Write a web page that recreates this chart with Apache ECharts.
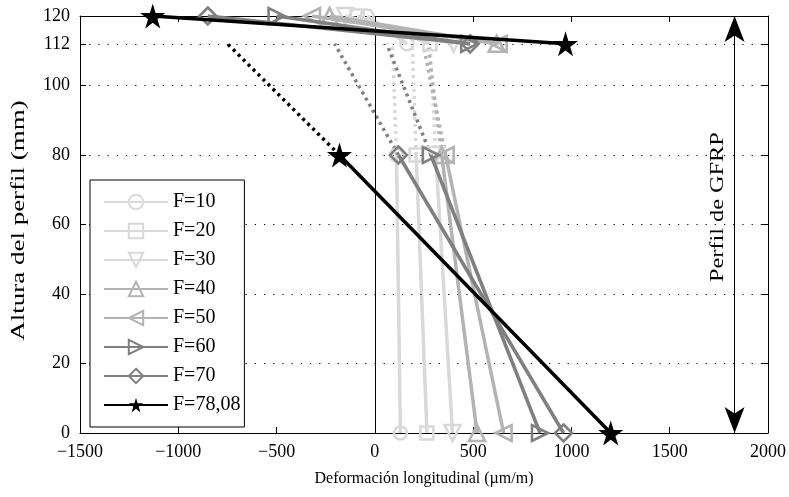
<!DOCTYPE html>
<html><head><meta charset="utf-8">
<script src="https://cdn.jsdelivr.net/npm/echarts@6/dist/echarts.min.js"></script>
<style>html,body{margin:0;padding:0;background:#fff}#c{width:789px;height:497px}</style>
</head><body><div id="c"></div>
<script>
const names = ['F=10','F=20','F=30','F=40','F=50','F=60','F=70','F=78,08'];
const heights = [0, 80, 112, 120];            // bottom, web top, flange bottom, flange top (mm)
const strainBottom = [130, 265, 395, 520, 655, 840, 960, 1200];   // at 0 mm
const strainWebTop = [110, 210, 310, 340, 360, 285, 120, -180];   // at 80 mm
const strainExt112 = [90, 190, 280, 270, 245, 60, -205, -750];    // dotted extension at 112 mm
const strainFlangeTop = [-40, -90, -150, -230, -320, -500, -850, -1130]; // at 120 mm
const strainFlangeBot = [163, 280, 400, 620, 630, 480, 485, 970];  // at 112 mm
const yTicks = [0, 20, 40, 60, 80, 100, 112, 120];
const yGrid = [20, 40, 60, 80, 100, 112];
const arrowX = 1830;
const xTitle = 'Deformación longitudinal (µm/m)';
const yTitle = 'Altura del perfil (mm)';
const noteText = 'Perfil de GFRP';

const colors = ['#d9d9d9','#d9d9d9','#d9d9d9','#b3b3b3','#b3b3b3','#7f7f7f','#7f7f7f','#000000'];
const star = 'path://M50,0 L61,35 L98,35 L68,57 L79,91 L50,70 L21,91 L32,57 L2,35 L39,35 Z';
const symbols = ['circle','rect','triangle','triangle','triangle','triangle','diamond',star];
const rotates = [0,0,180,0,90,-90,0,0];
const sizes = [13,13,16,16,16,16,17,25];
const font = 'Liberation Serif, Times New Roman, serif';

function styleFor(i) {
  const c = colors[i];
  const isStar = i === 7;
  return {
    symbol: symbols[i], symbolSize: sizes[i], symbolRotate: rotates[i],
    lineStyle: {color: c, width: 3.5}, color: c,
    itemStyle: {color: isStar ? c : 'rgba(255,255,255,0)', borderColor: c, borderWidth: isStar ? 0 : 2.6},
    animation: false, z: 3 + i, showAllSymbol: true
  };
}
const series = [];
names.forEach((n,i)=>{
  series.push(Object.assign({name: n, type: 'line'}, styleFor(i),
    {data: [[strainBottom[i], heights[0]], [strainWebTop[i], heights[1]]]}));
});
names.forEach((n,i)=>{
  series.push({
    name: n, type: 'line', showSymbol: false, symbol: 'none', animation: false, z: 2,
    lineStyle: {color: colors[i], width: 3.5, type: [3, 4], cap: 'butt'},
    data: [[strainWebTop[i], heights[1]], [strainExt112[i], heights[2]]]
  });
});
names.forEach((n,i)=>{
  series.push(Object.assign({name: n, type: 'line'}, styleFor(i),
    {data: [[strainFlangeTop[i], heights[3]], [strainFlangeBot[i], heights[2]]]}));
});
// helper: grid lines, zero line, GFRP arrow
series.push({
  type: 'line', data: [], silent: true, animation: false,
  markLine: {
    silent: true, symbol: 'none', animation: false,
    label: {show: false},
    data: yGrid.map(v => ({yAxis: v, lineStyle: {color: '#000', width: 1, type: [1.2, 8]}}))
      .concat([{xAxis: 0, lineStyle: {color: '#000', width: 1, type: 'solid'}}])
  },
  z: 1
});
series.push({
  type: 'line', data: [], silent: true, animation: false,
  markLine: {
    silent: true, animation: false,
    symbol: ['arrow','arrow'], symbolSize: [15, 26],
    lineStyle: {color: '#000', width: 1, type: 'solid'},
    label: {show: false},
    data: [[{coord: [arrowX, 0]}, {coord: [arrowX, 120]}]]
  },
  z: 1
});

const chart = echarts.init(document.getElementById('c'), null, {renderer: 'canvas'});
chart.setOption({
  animation: false,
  backgroundColor: '#fff',
  grid: {left: 80, right: 21, top: 16, bottom: 64, containLabel: false},
  legend: {
    data: names, orient: 'vertical', left: 90, top: 180,
    itemWidth: 64, itemHeight: 18, itemGap: 9,
    padding: [12, 4, 12, 13],
    backgroundColor: '#fff', borderColor: '#000', borderWidth: 1, borderRadius: 0,
    textStyle: {fontFamily: font, fontSize: 20, color: '#000'},
    selectedMode: false, z: 20
  },
  xAxis: [{
    type: 'value', min: -1500, max: 2000, interval: 500,
    name: xTitle, nameLocation: 'middle', nameGap: 38,
    nameTextStyle: {fontFamily: font, fontSize: 16, color: '#000'},
    axisLine: {show: true, onZero: false, lineStyle: {color: '#000', width: 1}},
    axisTick: {show: true, inside: true, length: 6, lineStyle: {color: '#000'}},
    axisLabel: {fontFamily: font, fontSize: 18, color: '#000', margin: 10,
      formatter: v => String(v).replace('-', '\u2212')},
    splitLine: {show: false}
  }, {
    type: 'value', min: -1500, max: 2000, interval: 500, position: 'top',
    axisLine: {show: true, onZero: false, lineStyle: {color: '#000', width: 1}},
    axisTick: {show: true, inside: true, length: 6, lineStyle: {color: '#000'}},
    axisLabel: {show: false}, splitLine: {show: false}
  }],
  yAxis: [{
    type: 'value', min: 0, max: 120,
    axisLine: {show: true, onZero: false, lineStyle: {color: '#000', width: 1}},
    axisTick: {show: true, inside: true, length: 6, customValues: yTicks, lineStyle: {color: '#000'}},
    axisLabel: {fontFamily: font, fontSize: 18, color: '#000', margin: 10, customValues: yTicks},
    splitLine: {show: false}
  }, {
    type: 'value', min: 0, max: 120, position: 'right',
    axisLine: {show: true, onZero: false, lineStyle: {color: '#000', width: 1}},
    axisTick: {show: true, inside: true, length: 6, customValues: yTicks, lineStyle: {color: '#000'}},
    axisLabel: {show: false}, splitLine: {show: false}
  }],
  series: series
});

// rotated titles (stretched along their length like the reference)
const pMid = chart.convertToPixel({xAxisIndex: 0, yAxisIndex: 0}, [-1500, 60]);
const pNote = chart.convertToPixel({xAxisIndex: 0, yAxisIndex: 0}, [arrowX, 65]);
chart.setOption({
  graphic: [{
    type: 'text', x: pMid[0] - 61, y: pMid[1] - 4, rotation: Math.PI / 2, scaleX: 1.5, silent: true,
    style: {text: yTitle, font: '18px ' + font, fill: '#000', align: 'center', verticalAlign: 'middle'}
  }, {
    type: 'text', x: pNote[0] - 16, y: pNote[1], rotation: Math.PI / 2, scaleX: 1.35, silent: true,
    style: {text: noteText, font: '18px ' + font, fill: '#000', align: 'center', verticalAlign: 'middle'}
  }]
});
</script></body></html>
